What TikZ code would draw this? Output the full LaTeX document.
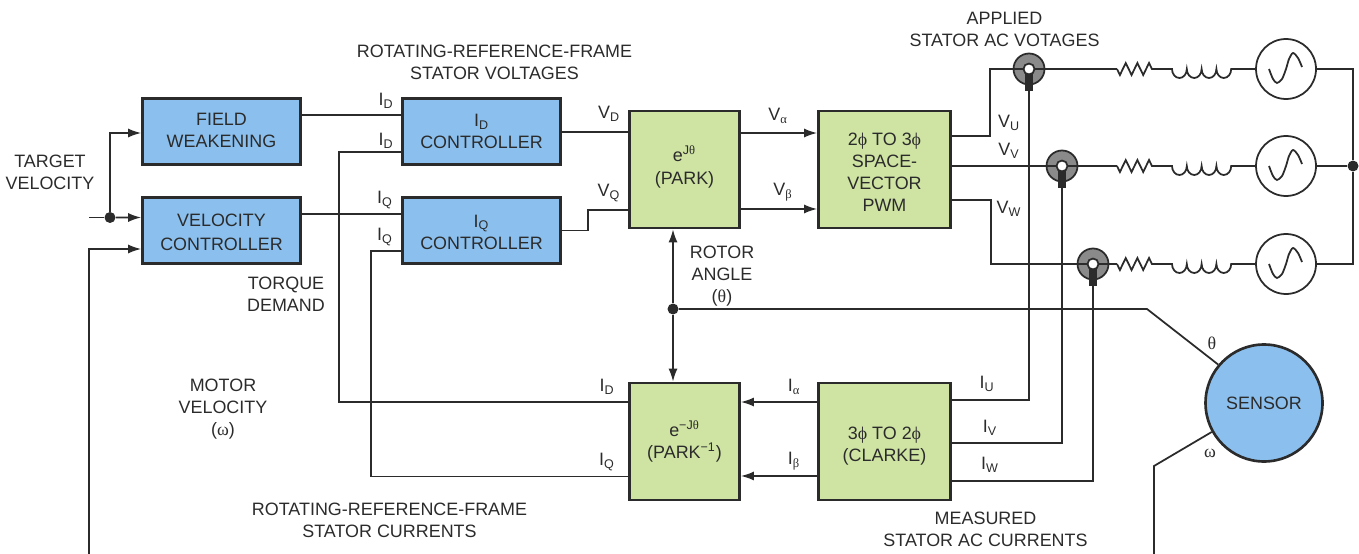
\documentclass[tikz,border=0pt]{standalone}
\usepackage{fontspec}
\setmainfont{Liberation Sans}
\newfontfamily\grk{Liberation Serif}
\usetikzlibrary{arrows.meta,decorations.pathmorphing}
\definecolor{inkc}{HTML}{2B2B2B}
\definecolor{bluec}{HTML}{8BC0EE}
\definecolor{greenc}{HTML}{CFE4A3}
\definecolor{ringc}{HTML}{8A8A8A}
\newcommand{\coilbumps}{arc[start angle=180,end angle=0,x radius=7.4,y radius=9]
	arc[start angle=180,end angle=0,x radius=7.4,y radius=9]
	arc[start angle=180,end angle=0,x radius=7.4,y radius=9]
	arc[start angle=180,end angle=0,x radius=7.4,y radius=9]}
\newcommand{\sinewave}[1]{\draw[wire,shift={(#1)}] plot[smooth] coordinates
	{(-17,0) (-13,10) (-9,14) (-4,10) (0,0) (3,-10) (7,-16) (12,-11) (16,-2)};}
\begin{document}
\begin{tikzpicture}[x=0.02cm,y=-0.02cm,
				every node/.style={font=\fontsize{10.2}{12.6}\selectfont,text=inkc},
				wire/.style={draw=inkc,line width=1pt},
				tip/.style={wire,-{Latex[length=2.6mm,width=1.8mm]}},
				block/.style={draw=inkc,line width=1.5pt,align=center,inner sep=0pt},
				bluebox/.style={block,fill=bluec,minimum width=3.16cm,minimum height=1.32cm},
				greenbox/.style={block,fill=greenc,minimum height=2.34cm},
				lbl/.style={align=center,inner sep=0pt},
				dot/.style={circle,fill=inkc,inner sep=0pt,minimum size=0.22cm},
				ring/.style={circle,draw=inkc,line width=1pt,fill=ringc,inner sep=0pt,minimum size=0.62cm},
				hole/.style={circle,draw=inkc,line width=1pt,fill=white,inner sep=0pt,minimum size=0.22cm},
				clamp/.style={fill=inkc,inner sep=0pt,minimum width=0.16cm,minimum height=0.36cm},
				source/.style={circle,draw=inkc,line width=1pt,fill=white,inner sep=0pt,minimum size=1.2cm},
				res/.style={wire,decorate,decoration={zigzag,segment length=0.233cm,amplitude=0.12cm,mirror}}]
				\useasboundingbox (0,0) rectangle (1359,554);
				\node[bluebox] (fw) at (221.5,131.5) {FIELD\\WEAKENING\\[-11.5pt]};
				\node[bluebox] (vc) at (221.5,230.5) {VELOCITY\\[1pt]CONTROLLER\\[-14.3pt]};
				\node[bluebox] (idc) at (481.5,131.5) {I\textsubscript{D}\\CONTROLLER};
				\node[bluebox] (iqc) at (481.5,230.5) {I\textsubscript{Q}\\CONTROLLER\\[-14.3pt]};
				\node[greenbox,minimum width=2.2cm] (park) at (684.5,169.5) {e\textsuperscript{J{\grk θ}}\\[1pt](PARK)\\[-8pt]};
				\node[greenbox,minimum width=2.64cm] (pwm) at (884.5,169.5) {2{\grk ϕ} TO 3{\grk ϕ}\\SPACE-\\VECTOR\\PWM\\[-16pt]};
				\node[greenbox,minimum width=2.2cm] (ipark) at (684.5,441.5) {e\textsuperscript{−J{\grk θ}}\\(PARK\textsuperscript{−1})};
				\node[greenbox,minimum width=2.64cm] (clarke) at (884.5,441.5) {3{\grk ϕ} TO 2{\grk ϕ}\\(CLARKE)\\[-16pt]};
				\node[circle,draw=inkc,line width=1.5pt,fill=bluec,inner sep=0pt,minimum size=2.34cm] (sensor) at (1264,403) {SENSOR};
				% current sensors and sources
				\node[ring] (s1) at (1029,69) {};
				\node[ring] (s2) at (1062,166) {};
				\node[ring] (s3) at (1093,264) {};
				\node[source] (v1) at (1286,69) {};
				\node[source] (v2) at (1286,166) {};
				\node[source] (v3) at (1286,264) {};
				\sinewave{v1}
				\sinewave{v2}
				\sinewave{v3}
				\coordinate (r1a) at (1117,69);
				\coordinate (r1b) at (1152,69);
				\coordinate (l1a) at (1172,69);
				\coordinate (r2a) at (1117,166);
				\coordinate (r2b) at (1152,166);
				\coordinate (l2a) at (1172,166);
				\coordinate (r3a) at (1117,264);
				\coordinate (r3b) at (1152,264);
				\coordinate (l3a) at (1172,264);
				\coordinate (tv) at (89,217.5);
				\coordinate (mv) at (89,554);
				\coordinate (wo) at (1154,554);
				\node[dot] (tvd) at (110,217.5) {};
				\node[dot] (rd) at (673,309) {};
				\node[dot] (nd) at (1353,166) {};
				% velocity side
				\draw[wire] (tv)--(tvd);
				\draw[tip] (tvd)--([yshift=0.26cm]vc.west);
				\draw[tip] (tvd)|-([yshift=-0.03cm]fw.west);
				\draw[tip] (mv)|-([yshift=-0.37cm]vc.west);
				\draw[wire] ([yshift=0.33cm]fw.east)--([yshift=0.33cm]idc.west);
				\draw[wire] ([yshift=0.33cm]vc.east)--([yshift=0.33cm]iqc.west);
				\draw[wire] ([yshift=-0.41cm]idc.west)--++(-62,0)|-([yshift=0.79cm]ipark.west);
				\draw[wire] ([yshift=-0.41cm]iqc.west)--++(-30,0)|-([yshift=-0.7cm]ipark.west);
				\draw[wire] ([yshift=0.75cm]park.west-|idc.east)--([yshift=0.75cm]park.west);
				\draw[wire] (iqc.east)--++(26,0)|-([yshift=-0.81cm]park.west);
				\draw[tip] ([yshift=0.73cm]park.east)--([yshift=0.73cm]pwm.west);
				\draw[tip] ([yshift=-0.79cm]park.east)--([yshift=-0.79cm]pwm.west);
				\draw[tip] ([yshift=0.79cm]clarke.west)--([yshift=0.79cm]ipark.east);
				\draw[tip] ([yshift=-0.69cm]clarke.west)--([yshift=-0.69cm]ipark.east);
				% rotor angle
				\draw[tip] (rd)--(park.south-|rd);
				\draw[tip] (rd)--(ipark.north-|rd);
				\draw[wire] (rd)--(1147,309)--(sensor.140);
				\draw[wire] (sensor.209)--(1154,466)--(wo);
				% phase wires
				\draw[wire] ([yshift=0.67cm]pwm.east)--++(38,0)|-(s1.center)--(r1a);
				\draw[wire] ([yshift=0.07cm]pwm.east)--(s2.center)--(r2a);
				\draw[wire] ([yshift=-0.61cm]pwm.east)--++(39,0)|-(s3.center)--(r3a);
				\draw[wire] ([yshift=0.83cm]clarke.east)-|(s1.center);
				\draw[wire] ([yshift=-0.03cm]clarke.east)-|(s2.center);
				\draw[wire] ([yshift=-0.79cm]clarke.east)-|(s3.center);
				\node[clamp] (c1) at (1029,82) {};
				\node[clamp] (c2) at (1062,179) {};
				\node[clamp] (c3) at (1093,277) {};
				\node[hole] (h1) at (s1) {};
				\node[hole] (h2) at (s2) {};
				\node[hole] (h3) at (s3) {};
				\draw[res] (r1a)--(r1b);
				\draw[res] (r2a)--(r2b);
				\draw[res] (r3a)--(r3b);
				\draw[wire] (r1b)--(l1a) \coilbumps --(v1);
				\draw[wire] (r2b)--(l2a) \coilbumps --(v2);
				\draw[wire] (r3b)--(l3a) \coilbumps --(v3);
				\draw[wire] (v1)-|(nd);
				\draw[wire] (v2)--(nd);
				\draw[wire] (v3)-|(nd);
				% captions
				\node[lbl] (t1) at (494.5,62) {ROTATING-REFERENCE-FRAME\\STATOR VOLTAGES};
				\node[lbl] (t2) at (1004.5,29) {APPLIED\\STATOR AC VOTAGES};
				\node[lbl] (t3) at (50,172) {TARGET\\VELOCITY};
				\node[lbl] (t4) at (286,294) {TORQUE\\DEMAND};
				\node[lbl] (t5) at (223,409) {MOTOR\\VELOCITY\\({\grk ω})};
				\node[lbl] (t6) at (722,276) {ROTOR\\ANGLE\\({\grk θ})};
				\node[lbl] (t7) at (389.5,520) {ROTATING-REFERENCE-FRAME\\STATOR CURRENTS};
				\node[lbl] (t8) at (985.5,529) {MEASURED\\STATOR AC CURRENTS};
				% signal names
				\node[lbl] (n1) at (386,101) {I\textsubscript{D}};
				\node[lbl] (n2) at (386,141) {I\textsubscript{D}};
				\node[lbl] (n3) at (385,200) {I\textsubscript{Q}};
				\node[lbl] (n4) at (385,237) {I\textsubscript{Q}};
				\node[lbl] (n5) at (609,114) {V\textsubscript{D}};
				\node[lbl] (n6) at (609,193) {V\textsubscript{Q}};
				\node[lbl] (n7) at (778,116) {V\textsubscript{{\grk α}}};
				\node[lbl] (n8) at (783,192) {V\textsubscript{{\grk β}}};
				\node[lbl] (n9) at (1009,123) {V\textsubscript{U}};
				\node[lbl] (n10) at (1009,151) {V\textsubscript{V}};
				\node[lbl] (n11) at (1009,209) {V\textsubscript{W}};
				\node[lbl] (n12) at (607,387) {I\textsubscript{D}};
				\node[lbl] (n13) at (607,462) {I\textsubscript{Q}};
				\node[lbl] (n14) at (794,387) {I\textsubscript{{\grk α}}};
				\node[lbl] (n15) at (794,461) {I\textsubscript{{\grk β}}};
				\node[lbl] (n16) at (987,384) {I\textsubscript{U}};
				\node[lbl] (n17) at (990,428) {I\textsubscript{V}};
				\node[lbl] (n18) at (990,465) {I\textsubscript{W}};
				\node[lbl] (n19) at (1212,343) {\grk θ};
				\node[lbl] (n20) at (1210,453) {\grk ω};
			\end{tikzpicture}
\end{document}
